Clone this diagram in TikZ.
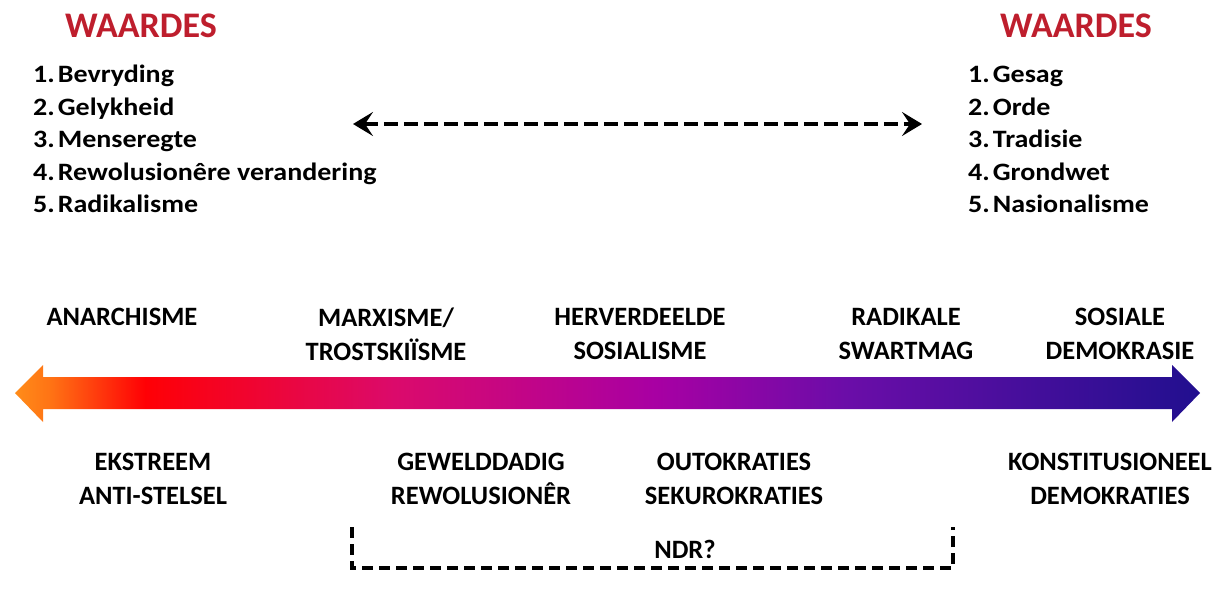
\documentclass[tikz,border=0pt]{standalone}
\usepackage{fontspec}
\setmainfont{Carlito}
\newfontfamily\listfont{Carlito}[FakeStretch=1.12]
\usetikzlibrary{arrows.meta}

\definecolor{waardered}{RGB}{190,30,45}
% colour run of the big arrow (orange - red - magenta - purple - blue)
\pgfdeclarehorizontalshading{spectrum}{100bp}{rgb(0bp)=(1,0.55,0.1); rgb(25bp)=(1,0.55,0.1); rgb(26.5bp)=(1,0.45,0.08); rgb(30.5bp)=(1,0,0.02); rgb(41bp)=(0.86,0.04,0.42); rgb(52bp)=(0.66,0,0.64); rgb(60bp)=(0.42,0.05,0.66); rgb(75bp)=(0.13,0.06,0.56); rgb(100bp)=(0.13,0.06,0.56)}

\tikzset{
  heading/.style={font=\fontsize{36}{36}\selectfont\bfseries, text=waardered, inner sep=0pt},
  valuelist/.style={font=\listfont\fontsize{25}{32.5}\selectfont\bfseries, inner sep=0pt, anchor=base west},
  ideo/.style={font=\fontsize{26.5}{34}\selectfont\bfseries, align=center, inner sep=0pt},
  dashline/.style={line width=4.5pt, dash pattern=on 14pt off 6pt,
    {Stealth[length=20pt,width=24pt,inset=8pt]}-{Stealth[length=20pt,width=24pt,inset=8pt]}},
  bracket/.style={line width=3.5pt, dash pattern=on 11pt off 6pt}
}

\begin{document}
\begin{tikzpicture}[x=1pt,y=-1pt]
\useasboundingbox (0,0) rectangle (1221,599);

% values
\node[heading] (lefthead) at (141,26) {WAARDES};
\node[heading] (righthead) at (1076,26) {WAARDES};
\node[valuelist] (leftvals) at (33,83) {\begin{tabular}[t]{@{}l@{\hspace{3pt}}l@{}}
1.&Bevryding\\ 2.&Gelykheid\\ 3.&Menseregte\\ 4.&Rewolusionêre verandering\\ 5.&Radikalisme
\end{tabular}};
\node[valuelist] (rightvals) at (968,83) {\begin{tabular}[t]{@{}l@{\hspace{3pt}}l@{}}
1.&Gesag\\ 2.&Orde\\ 3.&Tradisie\\ 4.&Grondwet\\ 5.&Nasionalisme
\end{tabular}};

\coordinate (dl) at (353,124);
\coordinate (dr) at (922,124);
\draw[dashline] (dl) -- (dr);

% spectrum arrow
\shade[shading=spectrum] (15,393) -- (43,365) -- (43,377) -- (1172,377) -- (1172,365)
  -- (1200,393) -- (1172,422) -- (1172,409) -- (43,409) -- (43,422) -- cycle;

\node[ideo] (anarch) at (122,317) {ANARCHISME};
\node[ideo] (marx) at (386,334) {MARXISME/\\TROSTSKIÏSME};
\node[ideo] (herv) at (640,334) {HERVERDEELDE\\SOSIALISME};
\node[ideo] (radik) at (906,334) {RADIKALE\\SWARTMAG};
\node[ideo] (sosdem) at (1120,334) {SOSIALE\\DEMOKRASIE};

\node[ideo] (ekstreem) at (153,479) {EKSTREEM\\ANTI-STELSEL};
\node[ideo] (geweld) at (481,479) {GEWELDDADIG\\REWOLUSIONÊR};
\node[ideo] (outok) at (734,479) {OUTOKRATIES\\SEKUROKRATIES};
\node[ideo] (konst) at (1110,479) {KONSTITUSIONEEL\\DEMOKRATIES};

% NDR bracket
\coordinate (ndrtl) at (352,527);
\coordinate (ndrbl) at (352,568);
\coordinate (ndrbr) at (953,568);
\coordinate (ndrtr) at (953,527);
\draw[bracket] (ndrtl) -- (ndrbl) -- (ndrbr) -- (ndrtr);
\node[ideo] (ndr) at (685,549) {NDR?};
\end{tikzpicture}
\end{document}
